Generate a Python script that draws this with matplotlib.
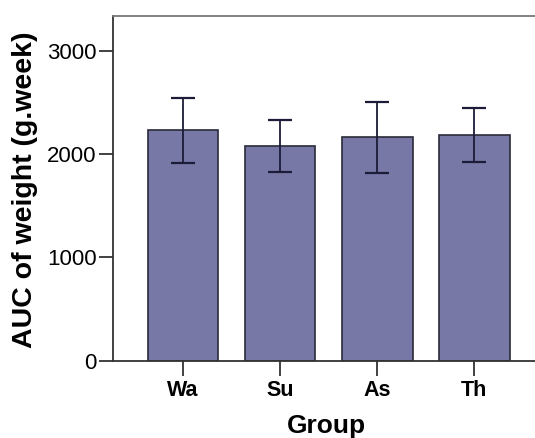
import matplotlib
matplotlib.use('Agg')
from matplotlib import pyplot as plt

# data
grupos = ['Wa', 'Su', 'As', 'Th']
auc = [2230, 2082, 2162, 2188]
erro_baixo = [318, 254, 350, 262]
erro_cima = [316, 252, 342, 254]
yticks = [0, 1000, 2000, 3000]

plt.rcParams['font.family'] = ['Liberation Sans', 'DejaVu Sans']

fig = plt.figure(figsize=(5.35, 4.38), dpi=100)
ax = fig.add_axes([0.2107, 0.1767, 0.807, 0.7875])

pos = list(range(len(grupos)))
ax.bar(pos, auc, width=0.73, color='#7878a6', edgecolor='#2a2a3a', linewidth=1.2,
       yerr=[erro_baixo, erro_cima], capsize=8.6,
       error_kw=dict(ecolor='#1c1c38', elinewidth=1.3, capthick=1.6))

ax.set_xlim(-0.725, 3.725)
ax.set_ylim(0, 3340)
ax.set_xticks(pos)
ax.set_xticklabels(grupos, fontsize=15.5, fontweight='bold')
ax.set_yticks(yticks)
ax.set_yticklabels([str(v) for v in yticks], fontsize=16)

ax.tick_params(axis='x', length=11, width=1.3, color='#333333', pad=3)
ax.tick_params(axis='y', length=10, width=1.3, color='#333333', pad=1.5)

for lado in ['left', 'bottom']:
    ax.spines[lado].set_color('#333333')
    ax.spines[lado].set_linewidth(1.3)
ax.spines['top'].set_color('#777777')
ax.spines['top'].set_linewidth(1.3)
ax.spines['right'].set_visible(False)

ax.set_xlabel('Group', fontsize=19, fontweight='bold')
ax.xaxis.label.set_va('baseline')
ax.xaxis.set_label_coords(0.496, -0.21)

ax.set_ylabel('AUC of weight (g.week)', fontsize=20.5, fontweight='bold')
ax.yaxis.label.set_va('center')
ax.yaxis.set_label_coords(-0.203, 0.495)

plt.savefig('out.png', dpi=100)
